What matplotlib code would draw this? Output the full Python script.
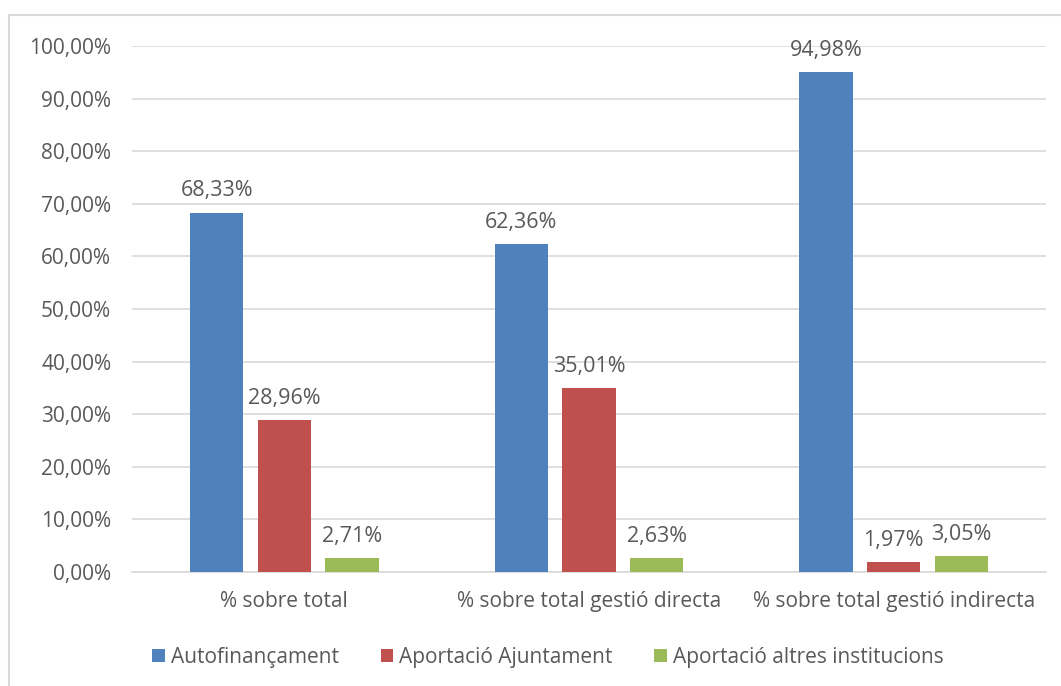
import matplotlib

matplotlib.use("Agg")
import matplotlib.pyplot as plt
import numpy as np
from matplotlib.patches import Rectangle

categories = ["% sobre total", "% sobre total gestió directa", "% sobre total gestió indirecta"]
series_names = ["Autofinançament", "Aportació Ajuntament", "Aportació altres institucions"]
autofinancament = [68.33, 62.36, 94.98]
aportacio_ajuntament = [28.96, 35.01, 1.97]
aportacio_altres = [2.71, 2.63, 3.05]
yticks = [0, 10, 20, 30, 40, 50, 60, 70, 80, 90, 100]

COLORS = ["#4F81BD", "#C0504D", "#9BBB59"]
TXT = "#595959"
GRID = "#D9D9D9"


def pct(v):
    return f"{v:.2f}".replace(".", ",") + "%"


plt.rcParams["font.family"] = ["Open Sans", "DejaVu Sans"]

fig = plt.figure(figsize=(10.61, 6.86), dpi=100, facecolor="white")
# outer chart frame
fig.patches.append(Rectangle((9 / 1061, -0.1), 1.2, 1 - 15 / 686 + 0.1,
                             transform=fig.transFigure, facecolor="none",
                             edgecolor=GRID, linewidth=1.5))

ax = fig.add_axes([0.1244, 0.1662, 0.986 - 0.1244, 0.9329 - 0.1662])
x = np.arange(len(categories))
w = 0.175
gap = 0.222
for i, (vals, name) in enumerate(zip([autofinancament, aportacio_ajuntament, aportacio_altres], series_names)):
    pos = x + (i - 1) * gap
    ax.bar(pos, vals, w, color=COLORS[i], label=name, zorder=3)
    for px, v in zip(pos, vals):
        ax.annotate(pct(v), (px, v), xytext=(0, 8), textcoords="offset points",
                    ha="center", va="bottom", fontsize=15.5, color=TXT)

ax.set_xlim(-0.5, 2.5)
ax.set_ylim(0, 100)
ax.set_yticks(yticks)
ax.set_yticklabels([pct(t) for t in yticks], fontsize=15, color=TXT)
ax.set_xticks(x)
ax.set_xticklabels(categories, fontsize=15, color=TXT)
ax.tick_params(length=0)
ax.tick_params(axis="y", pad=15)
ax.tick_params(axis="x", pad=14)
ax.grid(axis="y", color=GRID, linewidth=1.2, zorder=0)
for s in ["top", "right", "left"]:
    ax.spines[s].set_visible(False)
ax.spines["bottom"].set_color(GRID)
ax.spines["bottom"].set_linewidth(1.2)

fig.legend(loc="center", bbox_to_anchor=(548 / 1061, 1 - 657 / 686), ncol=3, frameon=False,
           fontsize=15, labelcolor=TXT, handlelength=0.6, handleheight=0.6,
           handletextpad=0.3, columnspacing=2.0)

fig.savefig("out.png", dpi=100, facecolor="white")
